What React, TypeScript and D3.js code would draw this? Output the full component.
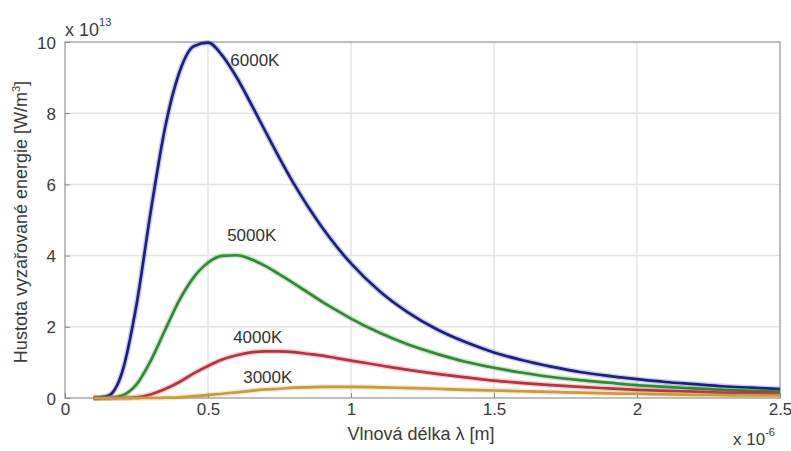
import React, { useRef, useEffect } from 'react';
import * as d3 from 'd3';

// wavelength in micrometres (axis shows x 10^-6 m)
const wavelengths = [
  0.1, 0.15, 0.2, 0.25, 0.3, 0.35, 0.4, 0.45, 0.5, 0.55, 0.6, 0.65, 0.7, 0.75, 0.8, 0.85, 0.9, 0.95, 1.0,
  1.1, 1.2, 1.3, 1.4, 1.5, 1.6, 1.7, 1.8, 1.9, 2.0, 2.1, 2.2, 2.3, 2.4, 2.5,
];

// energy density in units of 10^13
const t6000 = [
  0, 0.06, 0.73, 2.62, 5.25, 7.6, 9.15, 9.88, 9.98, 9.62, 9.01, 8.27, 7.5, 6.74, 6.02, 5.37, 4.78, 4.25, 3.78,
  3.0, 2.4, 1.93, 1.57, 1.28, 1.06, 0.88, 0.73, 0.62, 0.53, 0.45, 0.39, 0.33, 0.29, 0.25,
];
const t5000 = [
  0, 0, 0.07, 0.38, 1.05, 1.91, 2.75, 3.39, 3.8, 3.99, 4.01, 3.9, 3.71, 3.47, 3.22, 2.96, 2.7, 2.46, 2.23,
  1.83, 1.5, 1.24, 1.02, 0.85, 0.71, 0.59, 0.5, 0.43, 0.36, 0.31, 0.27, 0.23, 0.2, 0.18,
];
const t4000 = [
  0, 0, 0, 0.02, 0.1, 0.25, 0.45, 0.69, 0.9, 1.08, 1.2, 1.28, 1.31, 1.31, 1.29, 1.24, 1.19, 1.12, 1.05,
  0.92, 0.79, 0.68, 0.58, 0.49, 0.42, 0.36, 0.31, 0.27, 0.23, 0.2, 0.18, 0.15, 0.14, 0.12,
];
const t3000 = [
  0, 0, 0, 0, 0, 0.01, 0.02, 0.05, 0.08, 0.12, 0.16, 0.2, 0.24, 0.26, 0.29, 0.3, 0.31, 0.31, 0.31,
  0.3, 0.28, 0.26, 0.23, 0.21, 0.19, 0.17, 0.15, 0.13, 0.12, 0.1, 0.09, 0.08, 0.07, 0.07,
];

const seriesNames = ['6000K', '5000K', '4000K', '3000K'];
const seriesValues = [t6000, t5000, t4000, t3000];
const seriesColors = ['#1c1f86', '#2f8a32', '#b8323f', '#c99a3e'];

const xTicks = [0, 0.5, 1, 1.5, 2, 2.5];
const xTickLabels = ['0', '0.5', '1', '1.5', '2', '2.5'];
const yTicks = [0, 2, 4, 6, 8, 10];
const yTickLabels = ['0', '2', '4', '6', '8', '10'];

const xLabel = 'Vlnová délka λ [m]';
const yLabel = 'Hustota vyzařované energie [W/m';

// where the curve names sit, in data coordinates
const labelSpots = [
  [0.578, 9.5],
  [0.567, 4.58],
  [0.588, 1.71],
  [0.623, 0.6],
];

const W = 791;
const H = 451;
const margin = { top: 42, right: 11, bottom: 53, left: 65 };
const font = '"Liberation Sans", Arial, sans-serif';

const App = () => {
  const svgRef = useRef(null);

  useEffect(() => {
    const width = W - margin.left - margin.right;
    const height = H - margin.top - margin.bottom;

    const svg = d3.select(svgRef.current);
    svg.selectAll('*').remove();

    const x = d3.scaleLinear().domain([0, 2.5]).range([0, width]);
    const y = d3.scaleLinear().domain([0, 10]).range([height, 0]);

    const g = svg.append('g').attr('transform', `translate(${margin.left},${margin.top})`);

    // grid
    g.append('g')
      .selectAll('line')
      .data(xTicks.slice(1, -1))
      .join('line')
      .attr('x1', (d) => x(d))
      .attr('x2', (d) => x(d))
      .attr('y1', 0)
      .attr('y2', height)
      .attr('stroke', '#e4e4e4')
      .attr('stroke-width', 1.5);

    g.append('g')
      .selectAll('line')
      .data(yTicks.slice(1, -1))
      .join('line')
      .attr('x1', 0)
      .attr('x2', width)
      .attr('y1', (d) => y(d))
      .attr('y2', (d) => y(d))
      .attr('stroke', '#e4e4e4')
      .attr('stroke-width', 1.5);

    // frame
    g.append('rect')
      .attr('width', width)
      .attr('height', height)
      .attr('fill', 'none')
      .attr('stroke', '#a8a8a8')
      .attr('stroke-width', 1.5);

    // axes (ticks inward, MATLAB style)
    const xAxis = g
      .append('g')
      .attr('transform', `translate(0,${height})`)
      .call(d3.axisBottom(x).tickValues(xTicks).tickSize(-5).tickPadding(5).tickFormat((d, i) => xTickLabels[i]));
    const yAxis = g
      .append('g')
      .call(d3.axisLeft(y).tickValues(yTicks).tickSize(-5).tickPadding(9).tickFormat((d, i) => yTickLabels[i]));

    [xAxis, yAxis].forEach((a) => {
      a.select('.domain').remove();
      a.selectAll('line').attr('stroke', '#888');
      a.selectAll('text')
        .attr('font-family', font)
        .attr('font-size', 17)
        .attr('fill', '#3a3a3a');
    });
    yAxis.selectAll('text').attr('dy', '0.36em');

    // curves
    const line = d3
      .line()
      .x((d) => x(d[0]))
      .y((d) => y(d[1]))
      .curve(d3.curveMonotoneX);

    seriesValues.forEach((vals, i) => {
      const pts = wavelengths.map((w, j) => [w, vals[j]]);
      g.append('path')
        .attr('d', line(pts))
        .attr('fill', 'none')
        .attr('stroke', seriesColors[i])
        .attr('stroke-opacity', 0.22)
        .attr('stroke-width', 5.5)
        .attr('stroke-linejoin', 'round');
      g.append('path')
        .attr('d', line(pts))
        .attr('fill', 'none')
        .attr('stroke', seriesColors[i])
        .attr('stroke-width', 2.7)
        .attr('stroke-linejoin', 'round');
    });

    // curve names
    seriesNames.forEach((name, i) => {
      g.append('text')
        .attr('x', x(labelSpots[i][0]))
        .attr('y', y(labelSpots[i][1]))
        .attr('dy', '0.36em')
        .attr('font-family', font)
        .attr('font-size', 17)
        .attr('fill', '#333')
        .text(name);
    });

    // exponents
    const top = svg
      .append('text')
      .attr('x', margin.left)
      .attr('y', 36)
      .attr('font-family', font)
      .attr('font-size', 18)
      .attr('fill', '#3a3a3a');
    top.append('tspan').text('x 10');
    top.append('tspan').attr('dy', -10).attr('font-size', 11).text('13');

    const bottom = svg
      .append('text')
      .attr('x', 733)
      .attr('y', 445)
      .attr('font-family', font)
      .attr('font-size', 17)
      .attr('fill', '#3a3a3a');
    bottom.append('tspan').text('x 10');
    bottom.append('tspan').attr('dy', -9).attr('font-size', 11).text('-6');

    // axis titles
    svg
      .append('text')
      .attr('x', x(1.245) + margin.left)
      .attr('y', 440)
      .attr('text-anchor', 'middle')
      .attr('font-family', font)
      .attr('font-size', 18)
      .attr('fill', '#3a3a3a')
      .text(xLabel);

    const yl = svg
      .append('text')
      .attr('transform', `translate(27,222) rotate(-90)`)
      .attr('text-anchor', 'middle')
      .attr('font-family', font)
      .attr('font-size', 18)
      .attr('fill', '#3a3a3a');
    yl.append('tspan').text(yLabel);
    yl.append('tspan').attr('dy', -7).attr('font-size', 11).text('3');
    yl.append('tspan').attr('dy', 7).text(']');
  }, []);

  return (
    <div style={{ position: 'absolute', left: 0, top: 0, width: W, height: H, background: '#fff' }}>
      <svg ref={svgRef} width={W} height={H} style={{ display: 'block' }}></svg>
    </div>
  );
};

export default App;
